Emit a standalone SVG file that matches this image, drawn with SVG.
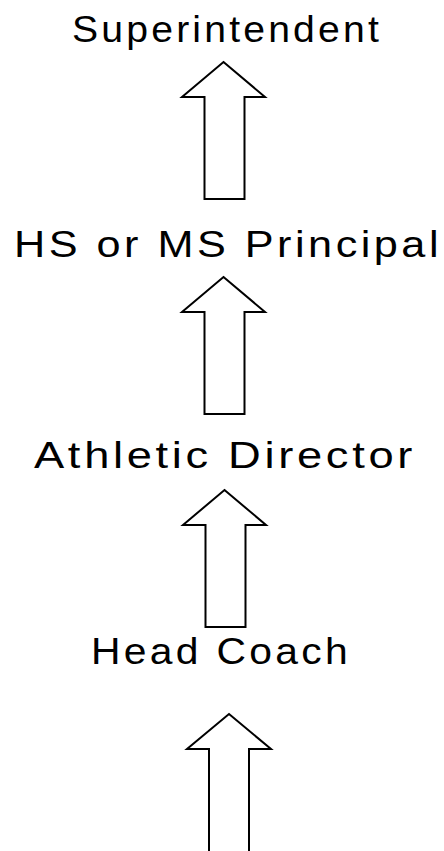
<svg xmlns="http://www.w3.org/2000/svg" width="444" height="851" viewBox="0 0 444 851">
<style>
.lbl{font-family:"Liberation Sans",Arial,sans-serif;font-size:37px;fill:#000;letter-spacing:3px}
.arr{fill:#fff;stroke:#000;stroke-width:2;stroke-linejoin:miter}
</style>
<defs>
<path id="up" d="M0,0 L41.5,35 L21,35 L21,137 L-19,137 L-19,35 L-41.5,35 Z"/>
</defs>
<rect width="444" height="851" fill="#fff"/>
<g id="connectors">
<use href="#up" class="arr" transform="translate(223.5,62)"/>
<use href="#up" class="arr" transform="translate(223.5,277)"/>
<use href="#up" class="arr" transform="translate(224.5,490)"/>
<path class="arr" d="M229,714 L271,749 L249,749 L249,860 L209,860 L209,749 L187,749 Z"/>
</g>
<g id="superintendent"><text class="lbl" x="72" y="42" textLength="310" lengthAdjust="spacingAndGlyphs">Superintendent</text></g>
<g id="principal"><text class="lbl" x="14" y="257" textLength="428" lengthAdjust="spacingAndGlyphs">HS or MS Principal</text></g>
<g id="athletic-director"><text class="lbl" x="34" y="468" textLength="382" lengthAdjust="spacingAndGlyphs">Athletic Director</text></g>
<g id="head-coach"><text class="lbl" x="91" y="664" textLength="260" lengthAdjust="spacingAndGlyphs">Head Coach</text></g>
</svg>
